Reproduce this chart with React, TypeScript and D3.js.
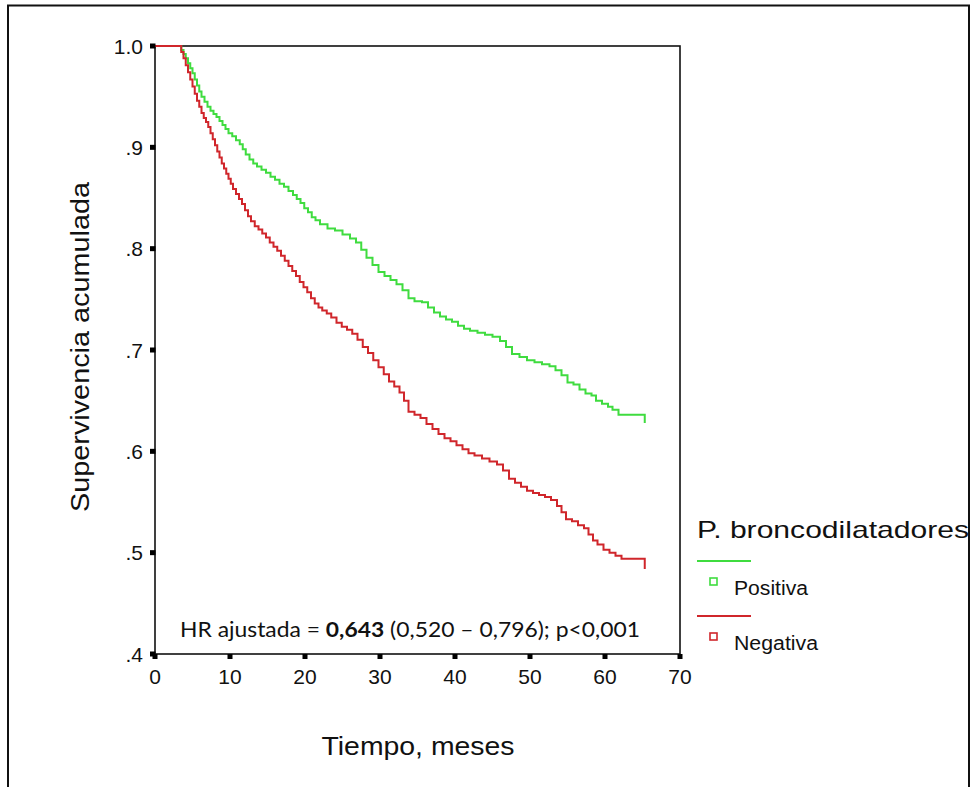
import React from "react";
import * as d3 from "d3";

// ---- Data ----
const positivaT = [0, 3.3, 3.5, 3.8, 4.1, 4.4, 4.7, 5.0, 5.3, 5.6, 5.9, 6.2, 6.6, 7.0, 7.4, 7.8, 8.2, 8.6, 9.0, 9.4, 9.8, 10.3, 10.8, 11.3, 11.7, 12.1, 12.6, 13.1, 13.6, 14.2, 14.8, 15.4, 16.0, 16.6, 17.2, 17.8, 18.4, 18.9, 19.4, 19.9, 20.4, 20.9, 21.4, 22.0, 23.0, 24.0, 25.0, 26.0, 26.8, 27.5, 28.2, 29.0, 29.8, 30.6, 31.4, 32.2, 33.0, 33.8, 34.6, 35.6, 36.4, 37.2, 38.0, 38.8, 39.6, 40.4, 41.2, 42.0, 43.0, 44.0, 45.0, 46.0, 46.8, 47.6, 48.6, 49.6, 50.6, 51.6, 52.6, 53.4, 54.2, 55.0, 55.8, 56.6, 57.4, 58.2, 58.8, 59.6, 60.4, 61.0, 61.8, 65.3];
const positivaS = [1.0, 1.0, 0.996, 0.992, 0.988, 0.983, 0.978, 0.973, 0.967, 0.961, 0.955, 0.95, 0.945, 0.94, 0.936, 0.933, 0.93, 0.926, 0.922, 0.918, 0.914, 0.911, 0.907, 0.903, 0.898, 0.893, 0.888, 0.884, 0.881, 0.878, 0.875, 0.871, 0.868, 0.864, 0.861, 0.857, 0.853, 0.849, 0.845, 0.84, 0.836, 0.831, 0.828, 0.824, 0.82, 0.818, 0.814, 0.81, 0.806, 0.799, 0.791, 0.784, 0.777, 0.773, 0.769, 0.765, 0.759, 0.751, 0.748, 0.747, 0.742, 0.737, 0.733, 0.73, 0.728, 0.724, 0.721, 0.719, 0.717, 0.715, 0.713, 0.709, 0.703, 0.696, 0.693, 0.69, 0.688, 0.686, 0.684, 0.68, 0.675, 0.668, 0.666, 0.661, 0.657, 0.655, 0.65, 0.647, 0.644, 0.641, 0.636, 0.628];

const negativaT = [0, 3.3, 3.5, 3.8, 4.1, 4.4, 4.7, 5.0, 5.3, 5.6, 5.9, 6.2, 6.5, 6.8, 7.1, 7.4, 7.7, 8.0, 8.3, 8.6, 8.9, 9.2, 9.5, 9.8, 10.1, 10.4, 10.8, 11.2, 11.6, 12.0, 12.4, 12.8, 13.3, 13.8, 14.3, 14.8, 15.3, 15.8, 16.3, 16.8, 17.3, 17.8, 18.3, 18.8, 19.3, 19.8, 20.3, 20.8, 21.3, 21.8, 22.3, 22.9, 23.5, 24.2, 24.9, 25.6, 26.3, 27.0, 27.7, 28.4, 29.1, 29.8, 30.5, 31.2, 31.9, 32.6, 33.2, 33.8, 34.6, 35.4, 36.2, 37.0, 37.8, 38.6, 39.4, 40.2, 41.0, 41.8, 42.6, 43.6, 44.6, 45.6, 46.4, 47.2, 48.0, 48.8, 49.6, 50.4, 51.2, 52.0, 52.8, 53.6, 54.2, 54.8, 55.6, 56.4, 57.2, 57.8, 58.4, 59.0, 59.8, 60.6, 61.4, 62.2, 65.3];
const negativaS = [1.0, 1.0, 0.994, 0.988, 0.981, 0.974, 0.967, 0.96, 0.953, 0.946, 0.94, 0.934, 0.929, 0.925, 0.92, 0.914, 0.908, 0.902, 0.896, 0.89, 0.884, 0.879, 0.874, 0.869, 0.864, 0.859, 0.854, 0.849, 0.844, 0.838, 0.832, 0.827, 0.822, 0.819, 0.815, 0.811, 0.806, 0.802, 0.798, 0.793, 0.788, 0.783, 0.778, 0.773, 0.767, 0.762, 0.757, 0.751, 0.746, 0.742, 0.739, 0.736, 0.732, 0.727, 0.723, 0.72, 0.716, 0.71, 0.703, 0.697, 0.69, 0.683, 0.676, 0.669, 0.664, 0.658, 0.65, 0.639, 0.636, 0.633, 0.627, 0.622, 0.617, 0.613, 0.61, 0.606, 0.602, 0.598, 0.596, 0.593, 0.59, 0.587, 0.581, 0.573, 0.569, 0.565, 0.561, 0.559, 0.557, 0.555, 0.552, 0.546, 0.54, 0.533, 0.531, 0.527, 0.524, 0.518, 0.512, 0.508, 0.503, 0.5, 0.497, 0.494, 0.484];

const xTicks = [0, 10, 20, 30, 40, 50, 60, 70];
const yTicks = [1.0, 0.9, 0.8, 0.7, 0.6, 0.5, 0.4];
const yTickLabels = ["1.0", ".9", ".8", ".7", ".6", ".5", ".4"];
const seriesNames = ["Positiva", "Negativa"];
const seriesColors = ["#3fdc3f", "#d0262b"];
const legendTitle = "P. broncodilatadores";
const xLabel = "Tiempo, meses";
const yLabel = "Supervivencia acumulada";

const W = 973;
const H = 787;
const L = 155, R = 680, T = 46, B = 654;

export default function App() {
  const x = d3.scaleLinear().domain([0, 70]).range([L, R]);
  const y = d3.scaleLinear().domain([0.4, 1.0]).range([B, T]);
  const line = d3
    .line<[number, number]>()
    .x((d) => x(d[0]))
    .y((d) => y(d[1]))
    .curve(d3.curveStepAfter);

  const pos: [number, number][] = positivaT.map((t, i) => [t, positivaS[i]]);
  const neg: [number, number][] = negativaT.map((t, i) => [t, negativaS[i]]);

  const arial = "'Liberation Sans', Arial, sans-serif";

  return (
    <svg
      width={W}
      height={H}
      style={{ position: "absolute", left: 0, top: 0, background: "#fff" }}
    >
      <rect x={0} y={0} width={W} height={H} fill="#fff" />
      {/* outer frame */}
      <rect x={8} y={5.5} width={961} height={820} fill="none" stroke="#111" strokeWidth={2} />

      {/* plot frame */}
      <rect x={L} y={T} width={R - L} height={B - T} fill="none" stroke="#111" strokeWidth={1.6} />

      {/* curves */}
      <path d={line(pos) || ""} fill="none" stroke={seriesColors[0]} strokeWidth={2} />
      <path d={line(neg) || ""} fill="none" stroke={seriesColors[1]} strokeWidth={2} />

      {/* y ticks */}
      {yTicks.map((v, i) => (
        <g key={"y" + i}>
          <rect x={L - 5} y={y(v) - 2.5} width={5.5} height={5} fill="#000" />
          <text
            x={143}
            y={y(v) + 7.5}
            textAnchor="end"
            fontFamily={arial}
            fontSize={21}
            fill="#111"
          >
            {yTickLabels[i]}
          </text>
        </g>
      ))}

      {/* x ticks */}
      {xTicks.map((v, i) => (
        <g key={"x" + i}>
          <rect x={x(v) - 2.5} y={B} width={5} height={5} fill="#000" />
          <text
            x={x(v)}
            y={684}
            textAnchor="middle"
            fontFamily={arial}
            fontSize={21}
            fill="#111"
          >
            {v}
          </text>
        </g>
      ))}

      {/* axis titles */}
      <text
        x={418}
        y={755}
        textAnchor="middle"
        fontFamily={arial}
        fontSize={25}
        fill="#111"
        textLength={193}
        lengthAdjust="spacingAndGlyphs"
      >
        {xLabel}
      </text>
      <text
        transform="translate(89,347) rotate(-90)"
        textAnchor="middle"
        fontFamily={arial}
        fontSize={25}
        fill="#111"
        textLength={330}
        lengthAdjust="spacingAndGlyphs"
      >
        {yLabel}
      </text>

      {/* annotation */}
      <text
        x={180}
        y={637}
        fontFamily="Lato, 'Open Sans', sans-serif"
        fontSize={21}
        fill="#111"
        textLength={460}
        lengthAdjust="spacingAndGlyphs"
      >
        HR ajustada = <tspan fontWeight="bold">0,643</tspan> (0,520 – 0,796); p&lt;0,001
      </text>

      {/* legend */}
      <text
        x={697}
        y={538}
        fontFamily={arial}
        fontSize={24}
        fill="#111"
        textLength={272}
        lengthAdjust="spacingAndGlyphs"
      >
        {legendTitle}
      </text>
      {seriesNames.map((name, i) => {
        const ly = 561 + i * 55;
        return (
          <g key={name}>
            <line x1={697} x2={751} y1={ly} y2={ly} stroke={seriesColors[i]} strokeWidth={2} />
            <rect
              x={710}
              y={ly + 17}
              width={7}
              height={7}
              fill="#fff"
              stroke={seriesColors[i]}
              strokeWidth={1.6}
            />
            <text
              x={734}
              y={ly + 34}
              fontFamily={arial}
              fontSize={20}
              fill="#111"
              textLength={i === 0 ? 74 : 84}
              lengthAdjust="spacingAndGlyphs"
            >
              {name}
            </text>
          </g>
        );
      })}
    </svg>
  );
}
